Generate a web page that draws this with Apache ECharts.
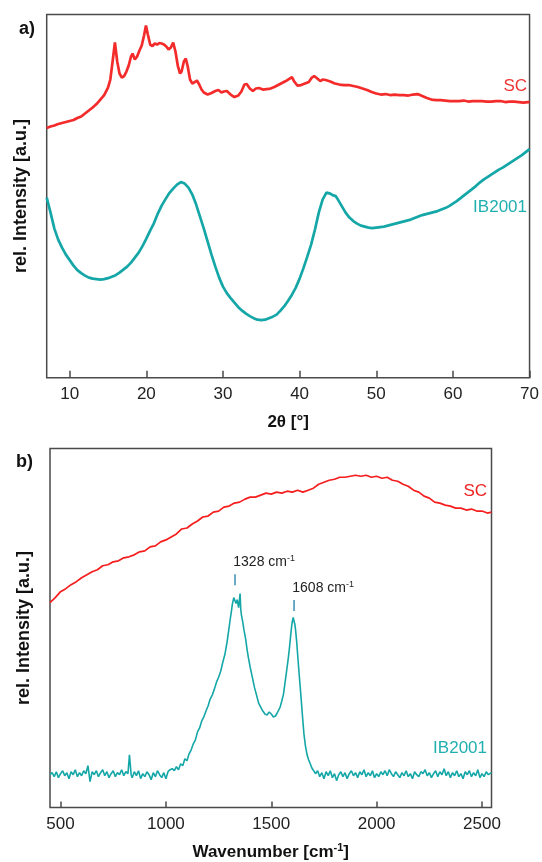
<!DOCTYPE html>
<html>
<head>
<meta charset="utf-8">
<script src="https://cdn.jsdelivr.net/npm/echarts@6/dist/echarts.min.js"></script>
<style>html,body{margin:0;padding:0;background:#fff}#c{width:542px;height:862px}</style>
</head>
<body>
<div id="c"></div>
<script>
// ---- Panel a) XRD ----
const xrdTicks = [10, 20, 30, 40, 50, 60, 70];
const xrdAngleSC = [7,7.5,8,8.5,9,9.5,10,10.5,11,11.5,12,12.5,13,13.5,14,14.5,15,
  15.3,15.6,15.9,16.2,16.5,16.8,17.1,17.4,17.7,18,
  18.2,18.5,18.8,19.1,19.4,19.7,19.95,
  20.2,20.5,20.8,21.1,21.4,21.7,22,22.3,22.6,22.9,23.2,23.5,23.8,24.1,24.4,24.6,24.9,25.15,25.4,25.7,26,26.3,26.6,26.9,27.2,27.5,
  28,28.5,29,29.4,29.8,30.1,30.5,31,31.5,32,32.4,32.8,33.1,33.5,33.9,34.3,34.7,35.2,35.7,36.2,36.7,37.2,37.7,38.2,38.7,39,39.3,39.7,40.2,40.7,41.2,41.6,41.9,42.3,42.7,43,43.4,
  44,44.6,45.2,45.8,46.4,47,47.6,48.2,48.8,49.4,50,50.6,51.2,51.8,52.4,53,53.6,54.2,54.8,55.4,56,56.6,57.2,57.8,58.4,59,59.6,60.2,60.8,61.4,62,62.6,63.2,63.8,64.4,65,65.6,66.2,66.8,67.4,68,68.6,69.2,69.8,70];
const xrdSC = [249.5,251,252,253.5,254.5,255.5,256.5,257.5,259.5,261,264,267,270,273.5,278,282.5,290,
  298,316,335,316,304,300,301.5,306,312,321,
  324,318,321,327,332,342,352,
  343,333,331.5,334,333,334.5,334,333,331,328,330,335,326,312,304,306,316,319,311,298,294,295.5,297,293,288,285,
  283,284.5,286.5,287.5,285,286,286.5,283,280.5,282,286,293,293.5,289,286.5,289,289.5,288,288.5,289,290.5,292.5,294.5,296.5,299,300.5,296,292,292.5,294,295.5,300,301.5,299,296.5,298,297.5,
  296,294,293,292.5,292.5,291.5,290.5,289,287.5,285.5,284,283,283.5,282.5,283,282.5,282.5,282,283,283.5,281.5,279.5,278,277.5,277.5,277,276.5,276.5,276.5,277,276,276.5,276.5,276.5,276,276,276.5,276.5,275.5,276,276,275.5,275,275.5,275.5];
const xrdAngleIB = [7,7.5,8,8.5,9,9.5,10,10.5,11,11.5,12,12.5,13,13.5,14,14.5,15,15.5,16,16.5,17,17.5,18,18.5,19,19.5,
  20,20.5,21,21.5,22,22.5,23,23.5,24,24.5,25,25.5,26,26.5,27,27.5,28,28.5,29,29.5,
  30,30.5,31,31.5,32,32.5,33,33.5,34,34.5,35,35.5,36,36.5,37,37.5,38,38.5,39,39.5,
  40,40.5,41,41.5,42,42.5,43,43.5,44,44.3,44.7,45,45.5,46,46.5,47,47.5,48,48.5,49,49.5,
  50,50.5,51,51.5,52,52.5,53,53.5,54,54.5,55,55.5,56,56.5,57,57.5,58,58.5,59,59.5,
  60,60.5,61,61.5,62,62.5,63,63.5,64,64.5,65,65.5,66,66.5,67,67.5,68,68.5,69,69.5,70];
const xrdIB = [180,165,149,138,130,123,117.5,112,107.5,104.5,102,100,99,98.5,98,98.5,99.5,101,102.5,105,108,111,115,120,125,131.5,
  139,147,154.5,164,172,178.5,184.5,189,193,195.5,194,190,183,173,161,149,136,123,111,100,
  91,84.5,79.5,75,70.5,67,64,61.5,59.5,58,57.5,58,59.5,61,63,67,71.5,77,83,90,
  99,109.5,121,133,148,165,178,185,184,182.5,181.5,178,171.5,165,160,156.5,154,152,151,150,149.5,
  150,150.5,151,152,153,154,155,156,157,158,159.5,161,162.5,163.5,164.5,165.5,166.5,168,169.5,171.5,
  174,176.5,179.5,182.5,185.5,188.5,191.5,195,198,200.5,203,205.5,208,210,212.5,215,217.5,220,222.5,225.5,228.5];

// ---- Panel b) Raman ----
const ramanTicks = [500, 1000, 1500, 2000, 2500];
const ramanShiftSC = [450,475,500,525,550,575,600,625,650,675,700,725,750,775,800,825,850,875,900,925,950,975,
  1000,1025,1050,1075,1100,1125,1150,1175,1200,1225,1250,1275,1300,1325,1350,1375,1400,1425,1450,1475,
  1500,1525,1550,1575,1600,1625,1650,1675,1700,1725,1750,1775,1800,1825,1850,1875,1900,1925,1950,1975,
  2000,2025,2050,2075,2100,2125,2150,2175,2200,2225,2250,2275,2300,2325,2350,2375,2400,2425,2450,2475,2500,2525,2545];
const ramanSC = [206,211,217,220,224,227,231,234,237,239,243,244,247,248,251,252,254,257,258,262,263,267,
  269,272,275,280,281,285,288,292,293,297,298,302,303,306,307,310,312,312,314,316,
  315,317,316,318,317,319,317,319,321,325,327,329,330,332,332,333,334,333,334,332,
  333,331,332,329,328,325,323,319,317,313,311,307,306,304,303,301,301,299,300,298,298,296,297];
// [wavenumber, intensity]
const ramanIB = [
  [450,33],[460,35],[470,31],[480,36],[490,30],[500,34],[510,37],[520,32],[530,35],[540,29],[550,36],[560,33],[570,38],[580,31],[590,35],
  [600,32],[610,37],[620,34],[630,42],[640,26],[650,36],[660,33],[670,37],[680,31],[690,35],[700,38],[710,32],[720,36],[730,30],[740,34],
  [750,37],[760,31],[770,35],[780,33],[790,38],[800,32],[810,36],[820,34],[827,53],[835,33],[840,30],[850,36],[860,32],[870,37],[880,29],
  [890,34],[900,31],[910,36],[920,33],[930,28],[940,35],[950,31],[960,37],[970,33],[980,30],[990,35],[1000,29],[1010,36],[1020,38],
  [1030,39],[1040,37],[1050,41],[1060,38],[1070,44],[1080,42],[1090,49],[1100,47],[1110,54],[1120,58],[1130,64],[1140,68],[1150,76],
  [1160,80],[1170,87],[1180,91],[1190,97],[1200,102],[1210,109],[1220,113],[1230,119],[1240,126],[1250,131],[1260,137],[1270,146],
  [1280,154],[1290,166],[1298,178],[1305,189],[1310,196],[1315,204],[1322,211],[1328,212],[1333,205],[1338,209],[1345,201],[1350,199],
  [1352,215],[1355,200],[1358,194],[1365,186],[1370,179],[1378,170],[1385,159],[1392,150],[1400,141],[1410,131],[1420,121],[1430,113],
  [1440,105],[1450,101],[1460,97],[1470,94],[1480,93],[1490,96],[1500,94],[1510,91],[1520,92],[1528,95],[1535,97],[1542,101],[1550,107],
  [1558,114],[1565,125],[1572,136],[1580,149],[1586,160],[1592,173],[1597,183],[1600,187],[1604,191],[1608,189],[1612,184],[1615,179],
  [1620,168],[1625,154],[1632,135],[1640,114],[1648,92],[1655,74],[1662,62],[1670,53],[1677,48],[1685,44],[1692,40],
  [1700,39],[1710,34],[1720,37],[1730,31],[1740,35],[1750,29],[1760,36],[1770,32],[1780,37],[1790,30],[1800,34],[1810,27],[1820,33],
  [1830,36],[1840,31],[1850,35],[1860,29],[1870,34],[1880,37],[1890,32],[1900,35],[1910,30],[1920,36],[1930,33],[1940,38],[1950,31],
  [1960,35],[1970,32],[1980,37],[1990,30],[2000,34],[2010,31],[2020,36],[2030,33],[2040,37],[2050,32],[2060,38],[2070,34],[2080,31],
  [2090,36],[2100,33],[2110,30],[2120,35],[2130,32],[2140,37],[2150,31],[2160,34],[2170,29],[2180,36],[2190,33],[2200,31],[2210,36],
  [2220,34],[2230,38],[2240,32],[2250,35],[2260,30],[2270,34],[2280,37],[2290,31],[2300,36],[2310,33],[2320,39],[2330,32],[2340,36],
  [2350,30],[2360,35],[2370,32],[2380,37],[2390,31],[2400,34],[2410,29],[2420,36],[2430,33],[2440,37],[2450,31],[2460,35],[2470,32],
  [2480,38],[2490,30],[2500,34],[2510,31],[2520,36],[2530,33],[2545,35]
];
const ramanPeaks = [1328, 1608];
const ramanPeakMarkY = [229, 203];

// ---- chart ----
const zip = (xs, ys) => xs.map((x, i) => [x, ys[i]]);
const FONT = '"Liberation Sans", Arial, sans-serif';
const RED = '#f42b2b';
const TEAL = '#15a7a7';
const AX = '#4a4a4a';

function xAxisCfg(grid, min, max, ticks, name, gap, tickLen, rich) {
  return {
    gridIndex: grid, type: 'value', min: min, max: max,
    axisLine: { show: false },
    axisTick: { show: true, inside: true, length: tickLen, customValues: ticks, lineStyle: { color: AX, width: 1.5 } },
    axisLabel: { customValues: ticks, formatter: v => String(v), fontSize: 17, color: '#222', margin: 8, fontFamily: FONT },
    splitLine: { show: false },
    name: name, nameLocation: 'middle', nameGap: gap,
    nameTextStyle: { fontSize: 17, fontWeight: 'bold', color: '#111', fontFamily: FONT, rich: rich }
  };
}
function yAxisCfg(grid, max) {
  return {
    gridIndex: grid, type: 'value', min: 0, max: max,
    axisLine: { show: false }, axisTick: { show: false }, axisLabel: { show: false }, splitLine: { show: false },
    name: 'rel. Intensity [a.u.]', nameLocation: 'middle', nameGap: 17,
    nameTextStyle: { fontSize: 18, fontWeight: 'bold', color: '#111', fontFamily: FONT }
  };
}

const chart = echarts.init(document.getElementById('c'), null, { renderer: 'canvas' });
chart.setOption({
  animation: false,
  backgroundColor: '#fff',
  grid: [
    { left: 46.7, top: 14.5, width: 484.3, height: 363.2, show: true, borderColor: AX, borderWidth: 1.5 },
    { left: 50, top: 448.4, width: 441.5, height: 361, show: true, borderColor: AX, borderWidth: 1.5 }
  ],
  xAxis: [
    xAxisCfg(0, 7, 70, xrdTicks, '2θ [°]', 36, 7, {}),
    xAxisCfg(1, 450, 2545, ramanTicks, 'Wavenumber [cm{sup|-1}]', 35, 6,
      { sup: { fontSize: 11, fontWeight: 'bold', color: '#111', fontFamily: FONT, verticalAlign: 'top', lineHeight: 20 } })
  ],
  yAxis: [yAxisCfg(0, 363), yAxisCfg(1, 361)],
  series: [
    { type: 'line', xAxisIndex: 0, yAxisIndex: 0, data: zip(xrdAngleSC, xrdSC), symbol: 'none', lineStyle: { color: RED, width: 2.7 }, z: 3 },
    { type: 'line', xAxisIndex: 0, yAxisIndex: 0, data: zip(xrdAngleIB, xrdIB), symbol: 'none', lineStyle: { color: TEAL, width: 2.7 }, z: 3 },
    { type: 'line', xAxisIndex: 1, yAxisIndex: 1, data: zip(ramanShiftSC, ramanSC), symbol: 'none', lineStyle: { color: '#f51d1d', width: 1.7 }, z: 3 },
    { type: 'line', xAxisIndex: 1, yAxisIndex: 1, data: ramanIB, symbol: 'none', lineStyle: { color: TEAL, width: 1.6 }, z: 3,
      markPoint: {
        symbol: 'rect', symbolSize: [1.5, 11], silent: true,
        itemStyle: { color: '#3a8fb5' },
        data: ramanPeaks.map((p, i) => ({
          coord: [p, ramanPeakMarkY[i]],
          label: {
            show: true, position: [-1, -12], align: 'left', verticalAlign: 'middle',
            formatter: p + ' cm{s|-1}', fontSize: 14, color: '#222', fontFamily: FONT,
            rich: { s: { fontSize: 9, color: '#222', fontFamily: FONT, verticalAlign: 'top', lineHeight: 17 } }
          }
        }))
      }
    }
  ],
  graphic: [
    { type: 'text', x: 19, y: 29, style: { text: 'a)', fontSize: 18, fontWeight: 'bold', fontFamily: FONT, fill: '#111', align: 'left', verticalAlign: 'middle' } },
    { type: 'text', x: 16, y: 462, style: { text: 'b)', fontSize: 18, fontWeight: 'bold', fontFamily: FONT, fill: '#111', align: 'left', verticalAlign: 'middle' } },
    { type: 'text', x: 527, y: 86, style: { text: 'SC', fontSize: 17, fontFamily: FONT, fill: '#ee3333', align: 'right', verticalAlign: 'middle' } },
    { type: 'text', x: 527, y: 207, style: { text: 'IB2001', fontSize: 17, fontFamily: FONT, fill: '#22afaf', align: 'right', verticalAlign: 'middle' } },
    { type: 'text', x: 487, y: 491.5, style: { text: 'SC', fontSize: 17, fontFamily: FONT, fill: '#ee2222', align: 'right', verticalAlign: 'middle' } },
    { type: 'text', x: 487, y: 748, style: { text: 'IB2001', fontSize: 17, fontFamily: FONT, fill: '#22afaf', align: 'right', verticalAlign: 'middle' } }
  ]
});
</script>
</body>
</html>
